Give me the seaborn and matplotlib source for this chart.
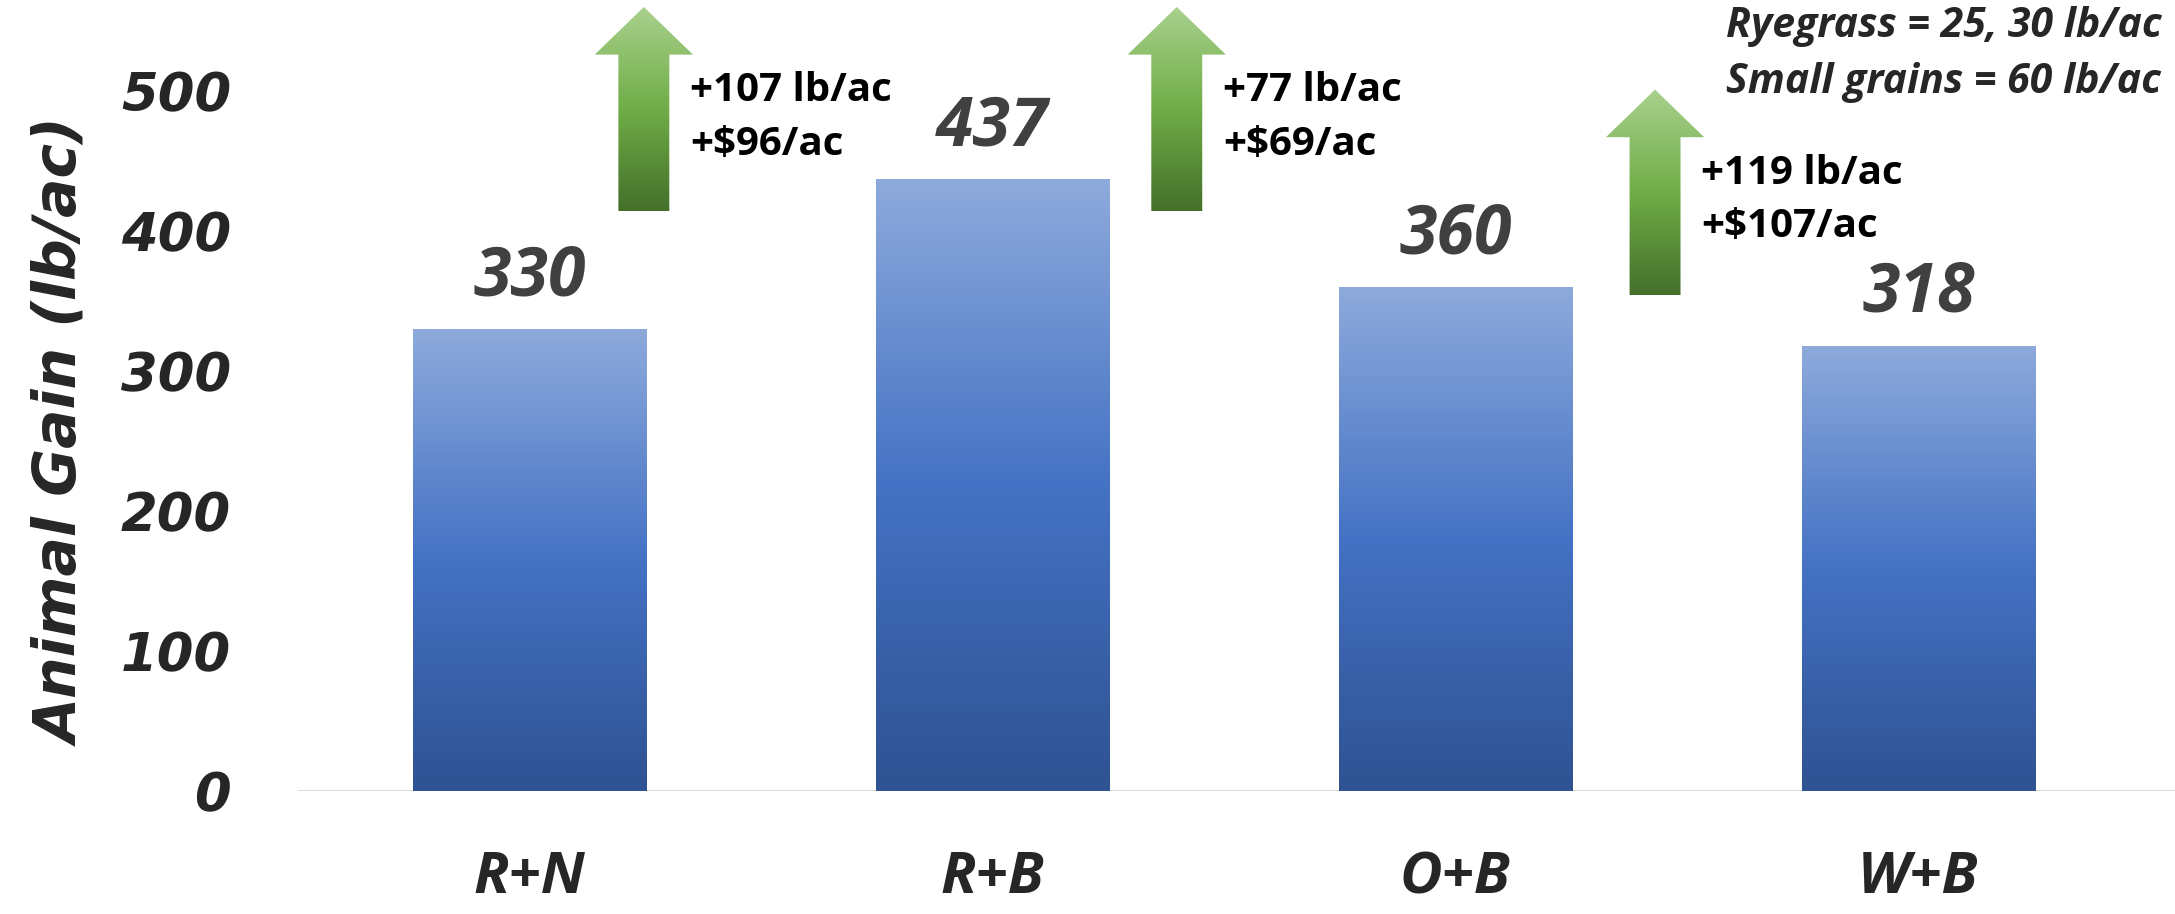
import numpy as np
import pandas as pd
import matplotlib
matplotlib.use('Agg')
import matplotlib.pyplot as plt
import seaborn as sns
from matplotlib.colors import LinearSegmentedColormap
from matplotlib.patches import Polygon

# data
categories = ['R+N', 'R+B', 'O+B', 'W+B']
gains = [330, 437, 360, 318]
yticks = [0, 100, 200, 300, 400, 500]
arrow_x = [0.247, 1.398, 2.431]
arrow_tip = [560, 560, 501]
arrow_base = [414, 414, 354]
arrow_lines = [['+107 lb/ac', '+$96/ac'],
               ['+77 lb/ac', '+$69/ac'],
               ['+119 lb/ac', '+$107/ac']]
note_lines = ['Ryegrass = 25, 30 lb/ac', 'Small grains = 60 lb/ac']

sns.set_style('white')
plt.rcParams['font.family'] = ['Open Sans', 'DejaVu Sans']

df = pd.DataFrame({'trt': categories, 'gain': gains})

fig = plt.figure(figsize=(21.75, 9.14), dpi=100)
ax = fig.add_axes([0.137, 0.1346, 0.863, 0.8654])
sns.barplot(data=df, x='trt', y='gain', color='#4472c4', width=0.505, ax=ax)
ax.set_ylim(0, 565)
ax.set_xlim(-0.5, 3.554)

# gradient fill on each bar
blue = LinearSegmentedColormap.from_list('b', ['#2f5292', '#4472c4', '#8eaadc'])
grad = np.linspace(0, 1, 256).reshape(-1, 1)
for p in ax.patches:
    x0, y0 = p.get_x(), p.get_y()
    w, h = p.get_width(), p.get_height()
    im = ax.imshow(grad, cmap=blue, origin='lower', aspect='auto',
                   extent=[x0, x0 + w, y0, y0 + h], zorder=2)
    im.set_clip_path(p)
    ax.text(x0 + w / 2, h + 37, str(int(h)), ha='center', va='center',
            fontsize=49, fontweight='bold', fontstyle='italic', color='#404040')

# green up arrows
green = LinearSegmentedColormap.from_list('g', ['#44702a', '#70ad47', '#a9d18e'])
for xc, tip, base, lines in zip(arrow_x, arrow_tip, arrow_base, arrow_lines):
    hw, sw, hh = 0.106, 0.055, 34
    pts = [(xc - sw, base), (xc + sw, base), (xc + sw, tip - hh),
           (xc + hw, tip - hh), (xc, tip), (xc - hw, tip - hh), (xc - sw, tip - hh)]
    poly = Polygon(pts, closed=True, facecolor='none', edgecolor='none', clip_on=False)
    ax.add_patch(poly)
    im = ax.imshow(grad, cmap=green, origin='lower', aspect='auto',
                   extent=[xc - hw, xc + hw, base, tip], zorder=3)
    im.set_clip_box(None)
    im.set_clip_path(poly)
    ax.text(xc + 0.1, tip - 60, lines[0], ha='left', va='center', fontsize=29,
            fontweight='bold', color='black', clip_on=False)
    ax.text(xc + 0.1, tip - 98, lines[1], ha='left', va='center', fontsize=29,
            fontweight='bold', color='black', clip_on=False)

ax.text(2.584, 546, note_lines[0], ha='left', va='center', fontsize=29.5,
        fontweight='bold', fontstyle='italic', clip_on=False)
ax.text(2.584, 506, note_lines[1], ha='left', va='center', fontsize=29.5,
        fontweight='bold', fontstyle='italic', clip_on=False)

ax.axhline(0, color='#d9d9d9', lw=2, zorder=1)
sns.despine(ax=ax, left=True, bottom=True)
ax.set_yticks(yticks)
ax.set_yticklabels([str(t) for t in yticks], fontsize=38, fontweight='bold',
                   fontstyle='italic', family='DejaVu Sans')
ax.set_xticks(range(len(categories)))
ax.set_xticklabels(categories, fontsize=42, fontweight='bold', fontstyle='italic')
ax.tick_params(axis='y', length=0, pad=48)
ax.tick_params(axis='x', length=0, pad=42)
ax.set_xlabel('')
ax.set_ylabel('Animal Gain (lb/ac)', fontsize=42, fontstyle='italic',
              fontweight='bold', family='DejaVu Sans')
ax.yaxis.set_label_coords(-0.110, 0.4526)

fig.savefig('out.png', dpi=100)
